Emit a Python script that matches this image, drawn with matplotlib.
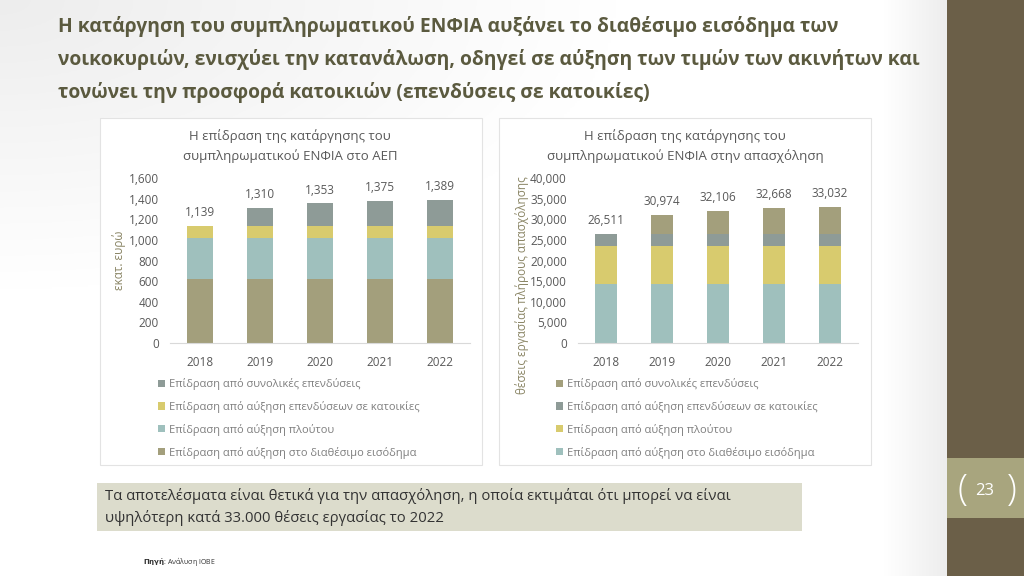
import matplotlib.pyplot as plt
import numpy as np
from matplotlib.patches import Rectangle

plt.rcParams['font.family'] = ['Open Sans', 'DejaVu Sans']

W, H = 1024, 576

years = ['2018', '2019', '2020', '2021', '2022']
series_names = ['Επίδραση από αύξηση στο διαθέσιμο εισόδημα',
                'Επίδραση από αύξηση πλούτου',
                'Επίδραση από αύξηση επενδύσεων σε κατοικίες',
                'Επίδραση από συνολικές επενδύσεις']

# ΑΕΠ (εκατ. ευρώ)
gdp_income = [625, 625, 625, 625, 625]
gdp_wealth = [396, 396, 396, 396, 396]
gdp_housing = [118, 118, 118, 118, 118]
gdp_invest = [0, 171, 214, 236, 250]
gdp_total = [1139, 1310, 1353, 1375, 1389]

# απασχόληση (θέσεις εργασίας)
job_income = [14400, 14400, 14400, 14400, 14400]
job_wealth = [9200, 9200, 9200, 9200, 9200]
job_housing = [2911, 2911, 2911, 2911, 2911]
job_invest = [0, 4463, 5595, 6157, 6521]
job_total = [26511, 30974, 32106, 32668, 33032]

olive = '#a39f7c'
teal = '#9fc0bd'
yellow = '#d8cb6e'
grey = '#8e9b97'


def box(x0, y0, x1, y1):
    return [x0 / W, 1 - y1 / H, (x1 - x0) / W, (y1 - y0) / H]


fig = plt.figure(figsize=(W / 100, H / 100), dpi=100)

# background with soft grey shading
bg = fig.add_axes([0, 0, 1, 1], zorder=-10)
xx, yy = np.meshgrid(np.linspace(0, 1, 400), np.linspace(0, 1, 300))
shade = 0.93 + 0.07 * np.clip(np.hypot(xx / 0.6, yy / 0.5), 0, 1)
shade = np.minimum(shade, 0.93 + 0.07 * np.clip((0.925 - xx) / 0.06, 0, 1))
bg.imshow(np.dstack([shade] * 3), extent=[0, 1, 0, 1], aspect='auto', origin='upper')
bg.set_xlim(0, 1)
bg.set_ylim(0, 1)
bg.axis('off')

# right sidebar
fig.patches.append(Rectangle((947 / W, 0), 1 - 947 / W, 1, transform=fig.transFigure,
                             facecolor='#6b5f48', edgecolor='none', zorder=-5))
fig.patches.append(Rectangle((947 / W, 1 - 518 / H), 1 - 947 / W, 60 / H, transform=fig.transFigure,
                             facecolor='#a8a57e', edgecolor='none', zorder=-4))
fig.text(985 / W, 1 - 491 / H, '23', color='white', fontsize=12, ha='center', va='center')
fig.text(962 / W, 1 - 490 / H, '(', color='white', fontsize=26, ha='center', va='center',
         fontweight='light')
fig.text(1012 / W, 1 - 490 / H, ')', color='white', fontsize=26, ha='center', va='center',
         fontweight='light')

# title
title_lines = ['Η κατάργηση του συμπληρωματικού ΕΝΦΙΑ αυξάνει το διαθέσιμο εισόδημα των',
               'νοικοκυριών, ενισχύει την κατανάλωση, οδηγεί σε αύξηση των τιμών των ακινήτων και',
               'τονώνει την προσφορά κατοικιών (επενδύσεις σε κατοικίες)']
for i, line in enumerate(title_lines):
    fig.text(58 / W, 1 - (32 + 33 * i) / H, line, fontsize=13.9, fontweight='bold',
             color='#5b5a3f', va='baseline', ha='left')

# chart panels
for x0, x1 in [(100, 482), (499, 871)]:
    fig.patches.append(Rectangle((x0 / W, 1 - 465 / H), (x1 - x0) / W, 347 / H,
                                 transform=fig.transFigure, facecolor='white',
                                 edgecolor='#e3e3e3', linewidth=0.8, zorder=-3))

txt = '#595959'
x = np.arange(len(years))


def draw(ax, stacks, colors, totals, ymax, ystep, width, ylabel, title, tx, leg_x):
    bottom = np.zeros(len(years))
    handles = []
    for vals, c, name in zip(stacks, colors, series_names):
        h = ax.bar(x, vals, width, bottom=bottom, color=c, label=name, zorder=2)
        handles.append(h)
        bottom += np.array(vals)
    for xi, t in zip(x, totals):
        ax.annotate(f'{t:,}', (xi, t), xytext=(0, 5), textcoords='offset points',
                    ha='center', va='bottom', fontsize=8.5, color=txt)
    ax.set_xlim(-0.5, 4.5)
    ax.set_ylim(0, ymax)
    ax.set_yticks(np.arange(0, ymax + 1, ystep))
    ax.yaxis.set_major_formatter(plt.FuncFormatter(lambda v, p: f'{int(v):,}'))
    ax.set_xticks(x)
    ax.set_xticklabels(years)
    ax.tick_params(length=0, labelsize=8.5, labelcolor=txt)
    ax.tick_params(axis='y', pad=8)
    ax.tick_params(axis='x', pad=9)
    for s in ['top', 'right', 'left']:
        ax.spines[s].set_visible(False)
    ax.spines['bottom'].set_color('#d9d9d9')
    ax.set_facecolor('none')
    ax.set_ylabel(ylabel, fontsize=8.5, color='#8a8565')
    fig.text(tx / W, 1 - 146 / H, title, ha='center', va='center', fontsize=9.5,
             color=txt, linespacing=1.6)
    ax.legend(handles[::-1], series_names[::-1], loc='upper left',
              bbox_to_anchor=(leg_x / W, 1 - 378 / H), bbox_transform=fig.transFigure,
              frameon=False, fontsize=8, labelcolor='#7f7f7f', handlelength=0.6,
              handleheight=0.6, handletextpad=0.4, labelspacing=0.98, borderpad=0,
              borderaxespad=0)


ax1 = fig.add_axes(box(170, 178, 470, 343))
draw(ax1, [gdp_income, gdp_wealth, gdp_housing, gdp_invest], [olive, teal, yellow, grey],
     gdp_total, 1600, 200, 0.43, 'εκατ. ευρώ',
     'Η επίδραση της κατάργησης του\nσυμπληρωματικού ΕΝΦΙΑ στο ΑΕΠ', 290, 158)
ax1.yaxis.set_label_coords(-0.147, 0.5)

ax2 = fig.add_axes(box(578, 178, 858, 343))
draw(ax2, [job_income, job_wealth, job_housing, job_invest], [teal, yellow, grey, olive],
     job_total, 40000, 5000, 0.39, 'θέσεις εργασίας πλήρους απασχόλησης',
     'Η επίδραση της κατάργησης του\nσυμπληρωματικού ΕΝΦΙΑ στην απασχόληση', 685, 556)
ax2.yaxis.set_label_coords(-0.175, 0.35)

# text box
fig.patches.append(Rectangle((97 / W, 1 - 531 / H), 705 / W, 48 / H, transform=fig.transFigure,
                             facecolor='#dcdccc', edgecolor='none', zorder=-2))
fig.text(105 / W, 1 - 507 / H,
         'Τα αποτελέσματα είναι θετικά για την απασχόληση, η οποία εκτιμάται ότι μπορεί να είναι\n'
         'υψηλότερη κατά 33.000 θέσεις εργασίας το 2022',
         fontsize=10.7, color='#333333', va='center', ha='left', linespacing=1.45)

# source
fig.text(143 / W, 1 - 562 / H, r'$\bf{Πηγή}$: Ανάλυση ΙΟΒΕ', fontsize=5, color='#333333',
         va='center')

fig.savefig('out.png', dpi=100)
